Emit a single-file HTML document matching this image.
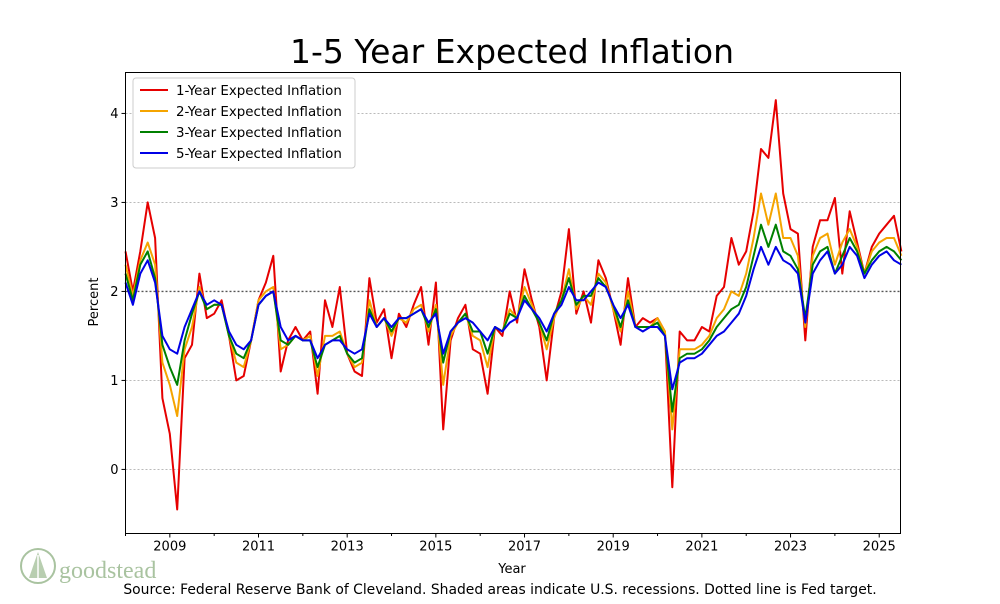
<!DOCTYPE html>
<html><head><meta charset="utf-8"><style>
body{margin:0;background:#fff;width:1000px;height:600px;overflow:hidden;font-family:"DejaVu Sans",sans-serif}
svg text{font-family:"DejaVu Sans","Liberation Sans",sans-serif}
</style></head><body>
<svg id="chart" width="1000" height="600" xmlns="http://www.w3.org/2000/svg">
<text x="512" y="63" text-anchor="middle" font-size="33" fill="#000">1-5 Year Expected Inflation</text>
<g id="grid"></g>
<g id="series"></g>
<rect x="125.5" y="72.5" width="775" height="461" fill="none" stroke="#000" stroke-width="1"/>
<g id="axes"></g>
<text transform="translate(98,302) rotate(-90)" text-anchor="middle" font-size="13">Percent</text>
<text x="512" y="573" text-anchor="middle" font-size="13">Year</text>
<text x="500" y="594" text-anchor="middle" font-size="13.9">Source: Federal Reserve Bank of Cleveland. Shaded areas indicate U.S. recessions. Dotted line is Fed target.</text>
<g>
<rect x="133" y="78" width="222" height="90" rx="3" fill="#fff" stroke="#ccc"/>
<g><line x1="140" y1="90" x2="168" y2="90" stroke="#e60000" stroke-width="2"/><text x="176" y="95" font-size="13.4">1-Year Expected Inflation</text></g>
<g><line x1="140" y1="111" x2="168" y2="111" stroke="#f5a400" stroke-width="2"/><text x="176" y="116" font-size="13.4">2-Year Expected Inflation</text></g>
<g><line x1="140" y1="132" x2="168" y2="132" stroke="#008000" stroke-width="2"/><text x="176" y="137" font-size="13.4">3-Year Expected Inflation</text></g>
<g><line x1="140" y1="153" x2="168" y2="153" stroke="#0000e6" stroke-width="2"/><text x="176" y="158" font-size="13.4">5-Year Expected Inflation</text></g>
</g>
<g>
<circle cx="38" cy="566" r="17" fill="none" stroke="#a9c3a0" stroke-width="2"/>
<path d="M38 552 L29 578 L47 578 Z" fill="#b8ceb0"/>
<line x1="38" y1="555" x2="38" y2="582" stroke="#fff" stroke-width="1.5"/>
<text x="59" y="578" style="font-family:'Liberation Serif',serif" font-size="24" fill="#a9c3a0">goodstead</text>
</g>
</svg>
<script>
const startYear = 2008.0;
const stepYear = 1/6;
const yTicks = [0,1,2,3,4];
const xTickYears = [2008,2009,2010,2011,2012,2013,2014,2015,2016,2017,2018,2019,2020,2021,2022,2023,2024,2025];
const xTickLabels = ["","2009","","2011","","2013","","2015","","2017","","2019","","2021","","2023","","2025"];
const fedTarget = 2;
const oneYear = [2.45,2.0,2.45,3.0,2.6,0.8, 0.4,-0.45,1.25,1.4,2.2,1.7, 1.75,1.9,1.5,1.0,1.05,1.45, 1.9,2.1,2.4,1.1,1.45,1.6, 1.45,1.55,0.85,1.9,1.6,2.05, 1.3,1.1,1.05,2.15,1.65,1.8, 1.25,1.75,1.6,1.85,2.05,1.4, 2.1,0.45,1.45,1.7,1.85,1.35, 1.3,0.85,1.6,1.5,2.0,1.65, 2.25,1.9,1.6,1.0,1.7,2.0, 2.7,1.75,2.0,1.65,2.35,2.15, 1.8,1.4,2.15,1.6,1.7,1.65, 1.7,1.55,-0.2,1.55,1.45,1.45, 1.6,1.55,1.95,2.05,2.6,2.3, 2.45,2.9,3.6,3.5,4.15,3.1, 2.7,2.65,1.45,2.5,2.8,2.8, 3.05,2.2,2.9,2.55,2.2,2.5, 2.65,2.75,2.85,2.45];
const twoYear = [2.3,1.95,2.35,2.55,2.3,1.2, 0.95,0.6,1.35,1.6,2.05,1.8, 1.85,1.85,1.5,1.2,1.15,1.45, 1.9,2.0,2.05,1.35,1.4,1.5, 1.45,1.5,1.05,1.5,1.5,1.55, 1.3,1.15,1.2,1.9,1.6,1.7, 1.5,1.7,1.65,1.8,1.85,1.55, 1.85,0.95,1.5,1.65,1.75,1.5, 1.45,1.15,1.6,1.55,1.8,1.7, 2.05,1.85,1.65,1.35,1.7,1.9, 2.25,1.8,1.95,1.85,2.2,2.1, 1.8,1.55,2.0,1.6,1.6,1.6, 1.7,1.55,0.45,1.35,1.35,1.35, 1.4,1.5,1.7,1.8,2.0,1.95, 2.2,2.6,3.1,2.75,3.1,2.6, 2.6,2.4,1.6,2.4,2.6,2.65, 2.3,2.55,2.7,2.5,2.2,2.45, 2.55,2.6,2.6,2.4];
const threeYear = [2.2,1.9,2.3,2.45,2.15,1.4, 1.15,0.95,1.45,1.75,2.0,1.8, 1.85,1.85,1.5,1.3,1.25,1.45, 1.85,1.95,2.0,1.45,1.4,1.5, 1.45,1.45,1.15,1.4,1.45,1.5, 1.3,1.2,1.25,1.8,1.6,1.7, 1.55,1.7,1.7,1.75,1.8,1.6, 1.8,1.2,1.55,1.65,1.75,1.55, 1.55,1.3,1.6,1.55,1.75,1.7, 1.95,1.8,1.65,1.45,1.75,1.9, 2.15,1.85,1.95,1.95,2.15,2.05, 1.85,1.6,1.9,1.6,1.6,1.6, 1.65,1.5,0.65,1.25,1.3,1.3, 1.35,1.45,1.6,1.7,1.8,1.85, 2.05,2.4,2.75,2.5,2.75,2.45, 2.4,2.25,1.7,2.3,2.45,2.5, 2.2,2.4,2.6,2.45,2.2,2.35, 2.45,2.5,2.45,2.35];
const fiveYear = [2.1,1.85,2.2,2.35,2.1,1.5, 1.35,1.3,1.6,1.8,2.0,1.85, 1.9,1.85,1.55,1.4,1.35,1.45, 1.85,1.95,2.0,1.6,1.45,1.5, 1.45,1.45,1.25,1.4,1.45,1.45, 1.35,1.3,1.35,1.75,1.6,1.7, 1.6,1.7,1.7,1.75,1.8,1.65, 1.75,1.3,1.55,1.65,1.7,1.65, 1.55,1.45,1.6,1.55,1.65,1.7, 1.9,1.8,1.7,1.55,1.75,1.85, 2.05,1.9,1.9,2.0,2.1,2.05, 1.85,1.7,1.85,1.6,1.55,1.6, 1.6,1.5,0.9,1.2,1.25,1.25, 1.3,1.4,1.5,1.55,1.65,1.75, 1.95,2.25,2.5,2.3,2.5,2.35, 2.3,2.2,1.65,2.2,2.35,2.45, 2.2,2.3,2.5,2.4,2.15,2.3, 2.4,2.45,2.35,2.3];

const NS = "http://www.w3.org/2000/svg";
const L = 125.5, R = 900.5, T = 72.5, B = 533.5;
const xMin = 2008.0, xMax = 2025.48, yMin = -0.72, yMax = 4.46;
function xScale(v){ return L + (v - xMin) / (xMax - xMin) * (R - L); }
function yScale(v){ return B - (v - yMin) / (yMax - yMin) * (B - T); }
function mk(tag, attrs, parent){ const e = document.createElementNS(NS, tag); for (const k in attrs) e.setAttribute(k, attrs[k]); parent.appendChild(e); return e; }

const grid = document.getElementById('grid');
const axes = document.getElementById('axes');
yTicks.forEach(v => {
  const y = yScale(v);
  const g = mk('line', {x1:L, x2:R, y1:y, y2:y, stroke:'#b0b0b0', 'stroke-width':0.8, 'stroke-dasharray':'2,2'}, grid);
  
  
  const t = mk('line', {x1:L-4, x2:L, y1:y, y2:y, stroke:'#000'}, axes);
  
  
  const lb = mk('text', {x:L-7, y:y+4.5, 'text-anchor':'end', 'font-size':13}, axes);
  lb.textContent = v;
  
  
});
const fy = yScale(fedTarget);
const fl = mk('line', {x1:L, x2:R, y1:fy, y2:fy, stroke:'#555', 'stroke-width':1.3, 'stroke-dasharray':'2,2'}, grid);



xTickYears.forEach((yr, i) => {
  const x = xScale(yr);
  const t = mk('line', {x1:x, x2:x, y1:B, y2:B+(xTickLabels[i] ? 4 : 2.5), stroke:'#000'}, axes);
  
  
  if (xTickLabels[i]) {
    const lb = mk('text', {x:x, y:B+17, 'text-anchor':'middle', 'font-size':13}, axes);
    lb.textContent = xTickLabels[i];
    
    
  }
});

const seriesG = document.getElementById('series');
const seriesList = [[oneYear,'#e60000','line-1-year'],[twoYear,'#f5a400','line-2-year'],[threeYear,'#008000','line-3-year'],[fiveYear,'#0000e6','line-5-year']];
seriesList.forEach(s => {
  const pts = s[0].map((v,i) => xScale(startYear + i*stepYear).toFixed(1) + ',' + yScale(v).toFixed(1)).join(' ');
  const p = mk('polyline', {points:pts, fill:'none', stroke:s[1], 'stroke-width':2, 'stroke-linejoin':'round'}, seriesG);
  
  
});
</script>
</body></html>
